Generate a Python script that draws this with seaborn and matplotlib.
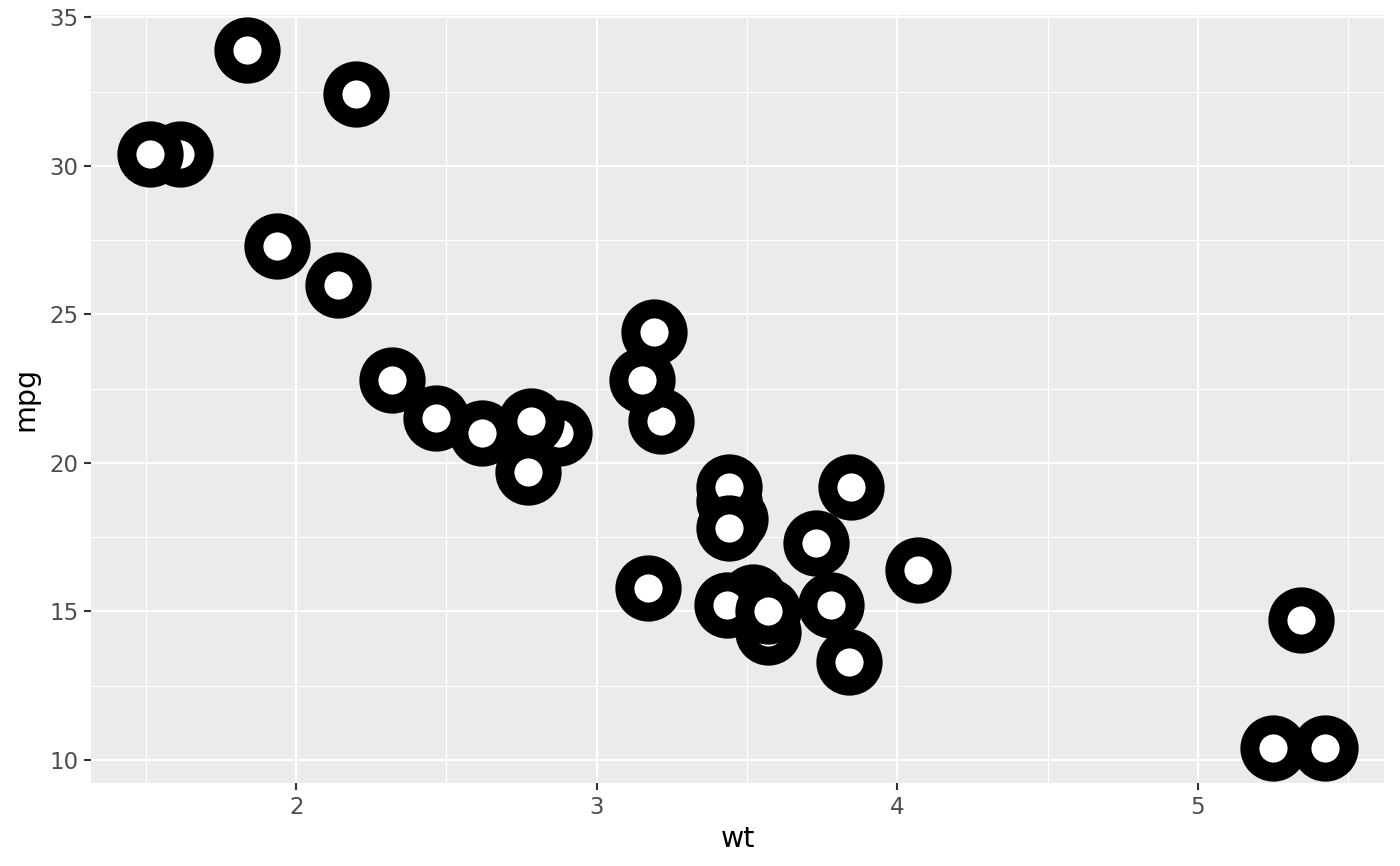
import matplotlib
matplotlib.use("Agg")
import matplotlib.pyplot as plt
from matplotlib.ticker import MultipleLocator, FixedLocator
import seaborn as sns
import pandas as pd

wt = [2.620, 2.875, 2.320, 3.215, 3.440, 3.460, 3.570, 3.190, 3.150, 3.440, 3.440,
      4.070, 3.730, 3.780, 5.250, 5.424, 5.345, 2.200, 1.615, 1.835, 2.465, 3.520,
      3.435, 3.840, 3.845, 1.935, 2.140, 1.513, 3.170, 2.770, 3.570, 2.780]
mpg = [21.0, 21.0, 22.8, 21.4, 18.7, 18.1, 14.3, 24.4, 22.8, 19.2, 17.8,
       16.4, 17.3, 15.2, 10.4, 10.4, 14.7, 32.4, 30.4, 33.9, 21.5, 15.5,
       15.2, 13.3, 19.2, 27.3, 26.0, 30.4, 15.8, 19.7, 15.0, 21.4]
x_ticks = [2, 3, 4, 5]
y_ticks = [10, 15, 20, 25, 30, 35]

df = pd.DataFrame({"wt": wt, "mpg": mpg})

sns.set_theme(style="darkgrid", rc={
    "axes.facecolor": "#EBEBEB",
    "grid.color": "white",
})
plt.rcParams["font.family"] = ["DejaVu Sans"]

fig = plt.figure(figsize=(14, 8.66), dpi=100)
ax = fig.add_axes([91 / 1400, (866 - 783) / 866, (1384 - 91) / 1400, (783 - 15) / 866])

sns.scatterplot(data=df, x="wt", y="mpg", ax=ax, s=1156, color="white",
                edgecolor="black", linewidth=13.7, zorder=3, legend=False)

ax.set_xlim(1.3175, 5.6196)
ax.set_ylim(9.225, 35.075)
ax.xaxis.set_major_locator(FixedLocator(x_ticks))
ax.yaxis.set_major_locator(FixedLocator(y_ticks))
ax.xaxis.set_minor_locator(MultipleLocator(0.5))
ax.yaxis.set_minor_locator(MultipleLocator(2.5))
ax.set_xticklabels([str(v) for v in x_ticks])
ax.set_yticklabels([str(v) for v in y_ticks])
ax.grid(which="major", color="white", linewidth=1.5, zorder=0)
ax.grid(which="minor", color="white", linewidth=0.75, zorder=0)
ax.set_axisbelow(True)
for sp in ax.spines.values():
    sp.set_visible(False)
ax.tick_params(which="major", length=5, width=1.5, color="#333333",
               labelsize=16.5, labelcolor="#4D4D4D", pad=4,
               bottom=True, left=True)
ax.tick_params(which="minor", length=0)
ax.set_xlabel("wt", fontsize=20.5, color="black", labelpad=5)
ax.set_ylabel("mpg", fontsize=20.5, color="black", labelpad=7)

fig.savefig("out.png", dpi=100, facecolor="white")
